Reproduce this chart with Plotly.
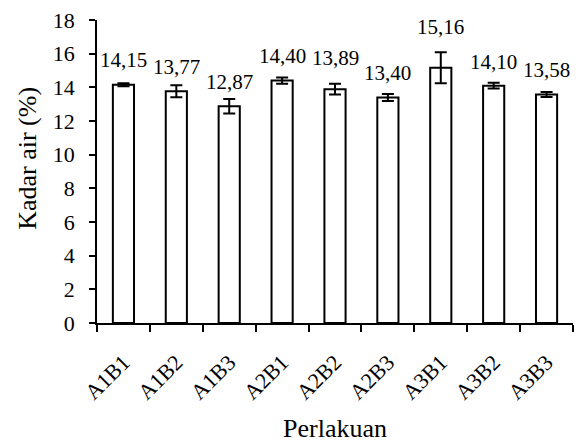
import plotly.graph_objects as go

categories = ["A1B1", "A1B2", "A1B3", "A2B1", "A2B2", "A2B3", "A3B1", "A3B2", "A3B3"]
values = [14.15, 13.77, 12.87, 14.40, 13.89, 13.40, 15.16, 14.10, 13.58]
errors = [0.09, 0.36, 0.43, 0.19, 0.32, 0.21, 0.92, 0.17, 0.15]
labels = ["14,15", "13,77", "12,87", "14,40", "13,89", "13,40", "15,16", "14,10", "13,58"]
label_y = [15.62, 15.23, 14.30, 15.86, 15.72, 14.83, 17.60, 15.52, 15.03]
y_ticks = [0, 2, 4, 6, 8, 10, 12, 14, 16, 18]

FONT = "Liberation Serif, Times New Roman, serif"

fig = go.Figure()
fig.add_trace(go.Bar(
    x=categories, y=values, width=0.4,
    marker=dict(color="white", line=dict(color="black", width=2)),
    error_y=dict(type="data", array=errors, visible=True, color="black", thickness=2, width=6),
    showlegend=False,
))

for c, t, ly in zip(categories, labels, label_y):
    fig.add_annotation(x=c, y=ly, text=t, showarrow=False,
                       font=dict(family=FONT, size=21, color="black"),
                       xanchor="center", yanchor="middle")

# y-axis title
fig.add_annotation(xref="paper", yref="paper", x=-0.145, y=0.545, text="Kadar air (%)",
                   textangle=-90, showarrow=False, xanchor="center", yanchor="middle",
                   font=dict(family=FONT, size=26, color="black"))

fig.update_layout(
    width=576, height=443,
    margin=dict(l=97, r=3, t=20, b=120, autoexpand=False),
    paper_bgcolor="white", plot_bgcolor="white",
    font=dict(family=FONT, size=22, color="black"),
    bargap=0.6,
)
fig.update_xaxes(
    automargin=False,
    showline=True, linecolor="black", linewidth=1.5,
    ticks="outside", tickson="boundaries", ticklen=7, tickcolor="black", tickwidth=1.5,
    tickangle=-45, tickfont=dict(family=FONT, size=22), ticklabelstandoff=16,
    title=dict(text="Perlakuan", font=dict(family=FONT, size=26), standoff=22),
    showgrid=False,
)
fig.update_yaxes(
    automargin=False,
    range=[0, 18], tickvals=y_ticks, showline=True, linecolor="black", linewidth=1.5,
    ticks="outside", ticklen=6, tickcolor="black", tickwidth=1.5,
    ticklabelstandoff=10, tickfont=dict(family=FONT, size=22),
    showgrid=False, zeroline=False,
)

fig.write_html("out.html", config={"displayModeBar": False},
               post_script="document.body.style.margin='0';document.body.style.overflow='hidden';")
